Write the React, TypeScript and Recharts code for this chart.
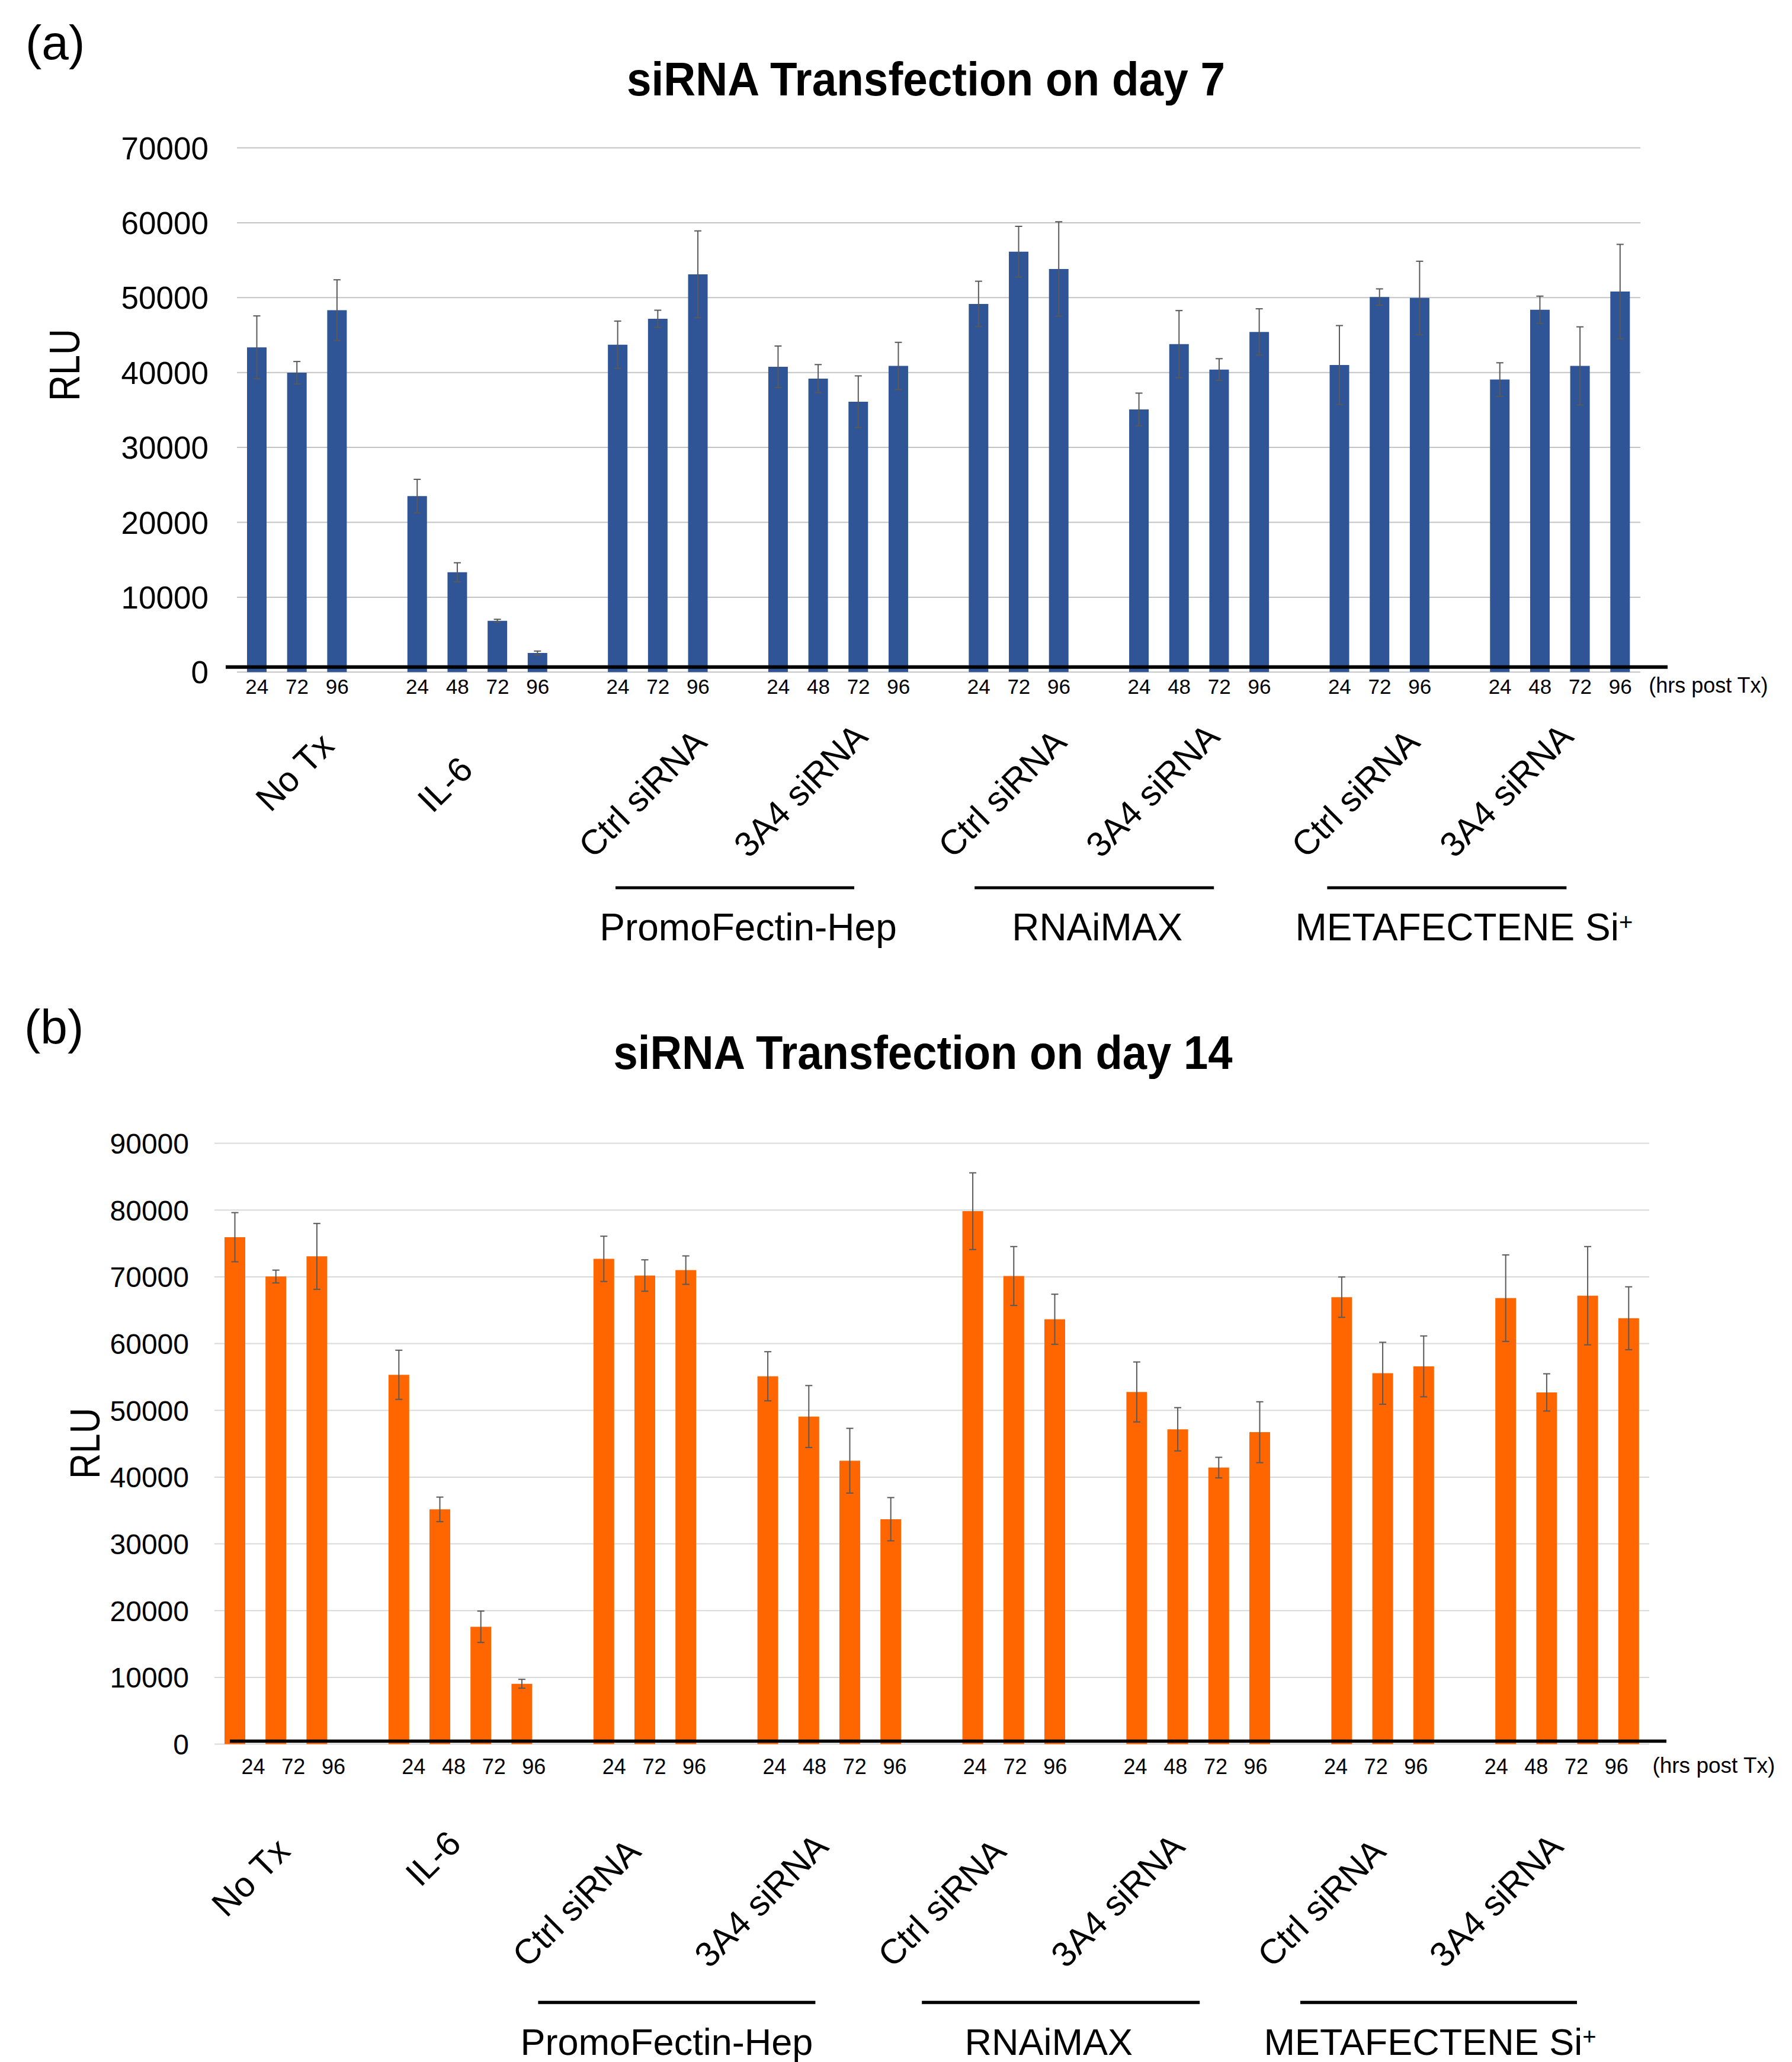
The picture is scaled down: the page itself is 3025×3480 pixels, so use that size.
import React from 'react';
import { BarChart, Bar, XAxis, YAxis, CartesianGrid, ErrorBar, ReferenceLine } from 'recharts';

// ---------- DATA ----------
const GROUP_LABELS = ['No Tx', 'IL-6', 'Ctrl siRNA', '3A4 siRNA', 'Ctrl siRNA', '3A4 siRNA', 'Ctrl siRNA', '3A4 siRNA'];
const GROUP_HOURS = [
  ['24', '72', '96'],
  ['24', '48', '72', '96'],
  ['24', '72', '96'],
  ['24', '48', '72', '96'],
  ['24', '72', '96'],
  ['24', '48', '72', '96'],
  ['24', '72', '96'],
  ['24', '48', '72', '96'],
];
const REAGENTS = ['PromoFectin-Hep', 'RNAiMAX', 'METAFECTENE Si'];
const REAGENT_SUP = ['', '', '+'];
const REAGENT_FIRST_GROUP = [2, 4, 6];
const HOURS_UNIT = '(hrs post Tx)';

const DAY7_MEAN = [
  43360, 39970, 48320,
  23500, 13330, 6850, 2560,
  43720, 47170, 53110,
  40760, 39190, 36100, 40880,
  49160, 56130, 53830,
  35070, 43790, 40400, 45420,
  41000, 50080, 49960,
  39060, 48380, 40880, 50810,
];
const DAY7_ERR = [
  4200, 1500, 4060,
  2240, 1270, 200, 250,
  3150, 1150, 5800,
  2780, 1870, 3450, 3150,
  3030, 3390, 6300,
  2180, 4480, 1450, 3090,
  5270, 1090, 4900,
  2240, 1820, 5220, 6300,
];
const DAY14_MEAN = [
  75940, 70050, 73070,
  55330, 35170, 17590, 9050,
  72700, 70200, 71010,
  55110, 49080, 42460, 33700,
  79840, 70130, 63650,
  52760, 47170, 41430, 46730,
  66960, 55560, 56590,
  66810, 52690, 67180, 63800,
];
const DAY14_ERR = [
  3680, 960, 4930,
  3680, 1840, 2350, 660,
  3390, 2350, 2130,
  3680, 4640, 4850, 3240,
  5740, 4410, 3750,
  4490, 3240, 1540, 4560,
  3020, 4640, 4560,
  6480, 2790, 7360, 4710,
];
const TICKS_A = [0, 10000, 20000, 30000, 40000, 50000, 60000, 70000];
const TICKS_B = [0, 10000, 20000, 30000, 40000, 50000, 60000, 70000, 80000, 90000];

type Row = {
  slot: string;
  hour: string;
  value: number | null;
  err: number | null;
  group: number;
  groupStart: boolean;
};

function buildRows(mean: number[], err: number[]): Row[] {
  const rows: Row[] = [];
  let k = 0;
  let v = 0;
  GROUP_HOURS.forEach((hours, g) => {
    hours.forEach((h, j) => {
      rows.push({ slot: String(k++), hour: h, value: mean[v], err: err[v], group: g, groupStart: j === 0 });
      v++;
    });
    if (g < GROUP_HOURS.length - 1) {
      rows.push({ slot: String(k++), hour: '', value: null, err: null, group: -1, groupStart: false });
    }
  });
  return rows;
}

const ROWS_A = buildRows(DAY7_MEAN, DAY7_ERR);
const ROWS_B = buildRows(DAY14_MEAN, DAY14_ERR);

// ---------- STYLES ----------
const FONT = '"Liberation Sans", Arial, Helvetica, sans-serif';

const STYLE_A = {
  height: 1640,
  margin: { top: 249.5, right: 256, bottom: 495.7, left: 300 },
  yMax: 70000,
  ticks: TICKS_A,
  color: '#2F5597',
  grid: '#c4c4c4',
  barSize: 33,
  yFont: 53,
  yMargin: 48,
  zeroL: -19, zeroR: 46, zeroDy: -8.6, zeroW: 6,
  hourFont: 35, hourDy: 37, hourShift: 0, hourDrift: 0,
  groupFont: 59,
  groupDx: [63, 46, 41, 37, 39, 22, 26, 10],
  groupDy: [168, 189, 204, 199, 204, 199, 204, 199],
  lineSpan: [[-4, 399], [-7, 397], [-21, 383]],
  lineDy: 364, lineW: 5,
  nameDx: [220, 200, 210], nameDy: 453, nameFont: 64,
  unitDx: 48, unitDy: 35, unitFont: 36,
};

const STYLE_B = {
  height: 1840,
  margin: { top: 289.6, right: 241, bottom: 526.4, left: 262 },
  yMax: 90000,
  ticks: TICKS_B,
  color: '#FF6600',
  grid: '#d9d9d9',
  barSize: 35,
  yFont: 48,
  yMargin: 43,
  zeroL: 26, zeroR: 29, zeroDy: -5, zeroW: 5.5,
  hourFont: 36, hourDy: 50, hourShift: 31, hourDrift: -1.52,
  groupFont: 59,
  groupDx: [26, 57, -47, -12, -53, -33, -35, -17],
  groupDy: [224, 192, 267, 263, 267, 263, 267, 263],
  lineSpan: [[-111, 357], [-86, 383], [-70, 397]],
  lineDy: 436, lineW: 5.5,
  nameDx: [106, 128, 149], nameDy: 524, nameFont: 63,
  unitDx: 40, unitDy: 48.5, unitFont: 37,
};

type Style = typeof STYLE_A;

function makeXTick(rows: Row[], st: Style) {
  return (props: any) => {
    const { x, y, payload } = props;
    const i = Number(payload.value);
    const row = rows[i];
    if (!row) return <g />;
    const els: React.ReactNode[] = [];
    if (row.hour) {
      els.push(
        <text key="h" x={x + st.hourShift + st.hourDrift * i} y={y + st.hourDy} textAnchor="middle"
          fontSize={st.hourFont} fontFamily={FONT} fill="#000">{row.hour}</text>
      );
    }
    if (row.groupStart) {
      const g = row.group;
      els.push(
        <text key="g" transform={`translate(${x + st.groupDx[g]},${y + st.groupDy[g]}) rotate(-45)`}
          textAnchor="middle" dy="0.36em" fontSize={st.groupFont} fontFamily={FONT} fill="#000">{GROUP_LABELS[g]}</text>
      );
      const r = REAGENT_FIRST_GROUP.indexOf(g);
      if (r >= 0) {
        els.push(
          <line key="l" x1={x + st.lineSpan[r][0]} x2={x + st.lineSpan[r][1]} y1={y + st.lineDy} y2={y + st.lineDy}
            stroke="#000" strokeWidth={st.lineW} />
        );
        els.push(
          <text key="n" x={x + st.nameDx[r]} y={y + st.nameDy} textAnchor="middle" fontSize={st.nameFont}
            fontFamily={FONT} fill="#000">
            {REAGENTS[r]}
            {REAGENT_SUP[r] ? <tspan fontSize={40} dy={-17}>{REAGENT_SUP[r]}</tspan> : null}
          </text>
        );
      }
    }
    if (i === rows.length - 1) {
      els.push(
        <text key="u" x={x + st.unitDx} y={y + st.unitDy} textAnchor="start" fontSize={st.unitFont}
          fontFamily={FONT} fill="#000">{HOURS_UNIT}</text>
      );
    }
    return <g>{els}</g>;
  };
}

function makeYTick(st: Style) {
  return (props: any) => {
    const { x, y, payload } = props;
    return (
      <text x={x} y={y} dy="0.36em" textAnchor="end" fontSize={st.yFont} fontFamily={FONT} fill="#000">
        {payload.value}
      </text>
    );
  };
}

function makeZeroLine(st: Style) {
  return (props: any) => {
    const { x1, x2, y1 } = props;
    return (
      <line x1={x1 + st.zeroL} x2={x2 + st.zeroR} y1={y1 + st.zeroDy} y2={y1 + st.zeroDy}
        stroke="#000" strokeWidth={st.zeroW} />
    );
  };
}

function Panel({ rows, st }: { rows: Row[]; st: Style }) {
  return (
    <BarChart width={3025} height={st.height} data={rows} margin={st.margin}>
      <CartesianGrid horizontal vertical={false} stroke={st.grid} strokeWidth={2} />
      <XAxis dataKey="slot" interval={0} axisLine={false} tickLine={false} tickSize={0} tickMargin={0}
        height={10} tick={makeXTick(rows, st)} />
      <YAxis domain={[0, st.yMax]} ticks={st.ticks} interval={0} axisLine={false} tickLine={false}
        tickSize={0} tickMargin={st.yMargin} width={100} tick={makeYTick(st)} />
      <Bar dataKey="value" fill={st.color} barSize={st.barSize} isAnimationActive={false}>
        <ErrorBar dataKey="err" width={6} strokeWidth={2} stroke="#595959" direction="y" />
      </Bar>
      <ReferenceLine y={0} shape={makeZeroLine(st)} />
    </BarChart>
  );
}

export default function App() {
  return (
    <div style={{ position: 'absolute', left: 0, top: 0, width: 3025, height: 3480, background: '#fff' }}>
      <div style={{ position: 'absolute', left: 0, top: 0 }}>
        <Panel rows={ROWS_A} st={STYLE_A} />
      </div>
      <div style={{ position: 'absolute', left: 0, top: 1640 }}>
        <Panel rows={ROWS_B} st={STYLE_B} />
      </div>
      <svg width={3025} height={3480} style={{ position: 'absolute', left: 0, top: 0, pointerEvents: 'none' }}>
        <text x={43} y={100} fontSize={82} fontFamily={FONT} fill="#000">(a)</text>
        <text x={41} y={1761} fontSize={82} fontFamily={FONT} fill="#000">(b)</text>
        <text x={1563} y={161} textAnchor="middle" fontSize={80} fontWeight="bold" fontFamily={FONT}
          textLength={1010} lengthAdjust="spacingAndGlyphs" fill="#000">siRNA Transfection on day 7</text>
        <text x={1558} y={1804} textAnchor="middle" fontSize={80} fontWeight="bold" fontFamily={FONT}
          textLength={1045} lengthAdjust="spacingAndGlyphs" fill="#000">siRNA Transfection on day 14</text>
        <text transform="translate(134,616) rotate(-90)" textAnchor="middle" fontSize={72} fontFamily={FONT}
          textLength={122} lengthAdjust="spacingAndGlyphs" fill="#000">RLU</text>
        <text transform="translate(168,2436) rotate(-90)" textAnchor="middle" fontSize={70} fontFamily={FONT}
          textLength={120} lengthAdjust="spacingAndGlyphs" fill="#000">RLU</text>
      </svg>
    </div>
  );
}
